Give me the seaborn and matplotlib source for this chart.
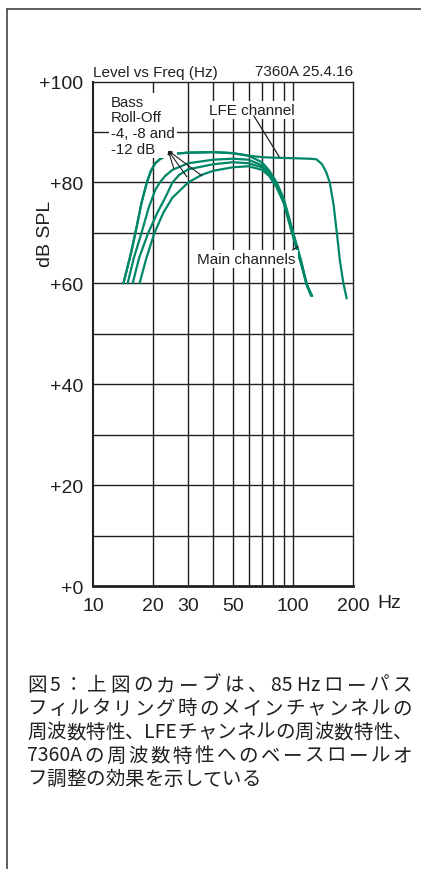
"""
Genelec 7360A: level vs frequency, bass roll-off and LFE channel
"""

# import section
import re
import pandas as pd
import seaborn as sns
import matplotlib.pyplot as plt
from matplotlib.font_manager import FontProperties
from matplotlib.lines import Line2D

# curve data (frequency in Hz, level in dB SPL)
MAIN_0_HZ = [14.2, 15.5, 16.5, 17.5, 18.6, 19.5, 20.5, 21.6, 23, 26, 30, 40, 50, 60, 70, 76, 83, 90, 100, 110, 117, 124]
MAIN_0_DB = [60, 66, 71, 76, 80, 82.3, 83.8, 84.6, 85.2, 85.7, 85.9, 86, 85.8, 85.3, 84.0, 82.4, 80, 76.8, 70.3, 64.5, 60, 57.5]
MAIN_4_HZ = [14.9, 16, 17.5, 19, 20.5, 21.6, 23, 25, 30, 40, 50, 60, 70, 76, 83, 90, 100, 110, 117, 123]
MAIN_4_DB = [60, 65, 70, 75, 78.5, 80, 81.3, 82.5, 83.8, 84.5, 84.7, 84.5, 83.4, 81.9, 79.6, 76.4, 70, 64.2, 59.8, 57.6]
MAIN_8_HZ = [15.8, 17, 18.9, 21, 23, 25, 27, 30, 40, 50, 60, 70, 76, 83, 90, 100, 110, 118, 124]
MAIN_8_DB = [60, 65, 70, 74, 77, 80, 81.5, 82.6, 83.6, 84, 83.8, 83, 81.6, 79.3, 76.1, 69.6, 64, 59.5, 57.6]
MAIN_12_HZ = [17.1, 18.5, 20.3, 22.5, 25, 30, 35, 40, 50, 60, 70, 76, 83, 90, 100, 110, 118, 125]
MAIN_12_DB = [60, 65, 70, 74, 77, 80, 81.5, 82.3, 83, 83.2, 82.5, 81.3, 79, 75.9, 69.4, 63.8, 59.5, 57.5]
LFE_HZ = [14.2, 15.5, 16.5, 17.5, 18.6, 19.5, 20.5, 21.6, 23, 26, 30, 40, 50, 60, 70, 80, 100, 120, 131, 140, 147, 153, 160, 166, 172, 179, 186]
LFE_DB = [60, 66, 71, 76, 80, 82.3, 83.8, 84.6, 85.2, 85.7, 85.9, 86, 85.8, 85.3, 85.0, 84.9, 84.8, 84.7, 84.6, 83.6, 82, 80, 75.5, 70, 64.5, 60, 57]

Y_TICKS = [0, 20, 40, 60, 80, 100]
Y_LABELS = ['+0', '+20', '+40', '+60', '+80', '+100']
X_TICKS = [10, 20, 30, 50, 100, 200]
X_LABELS = ['10', '20', '30', '50', '100', '200']
X_GRID = [20, 30, 40, 50, 60, 70, 80, 90, 100]
Y_GRID = [10, 20, 30, 40, 50, 60, 70, 80, 90]

CAPTION_ROWS = ['図5：上図のカーブは、85 Hzローパス',
                'フィルタリング時のメインチャンネルの',
                '周波数特性、LFEチャンネルの周波数特性、',
                '7360Aの周波数特性へのベースロールオ',
                'フ調整の効果を示している']

# long-form table for seaborn
frames = []
for name, hz, db in [('main 0', MAIN_0_HZ, MAIN_0_DB), ('main -4', MAIN_4_HZ, MAIN_4_DB),
                     ('main -8', MAIN_8_HZ, MAIN_8_DB), ('main -12', MAIN_12_HZ, MAIN_12_DB),
                     ('LFE', LFE_HZ, LFE_DB)]:
    frames.append(pd.DataFrame({'curve': name, 'freq': hz, 'db': db}))
CURVES = pd.concat(frames, ignore_index=True)

# set plot dimensions
X_PIXELS, Y_PIXELS, DPI = 421, 870, 100
X_INCH, Y_INCH = X_PIXELS / DPI, Y_PIXELS / DPI
INK = '#231f20'
GREEN = '#008768'

sns.set_style('white')
plt.rcParams['font.family'] = ['Liberation Sans', 'DejaVu Sans']

fig = plt.figure(figsize=(X_INCH, Y_INCH), dpi=DPI)
ax = fig.add_axes([93 / X_PIXELS, (Y_PIXELS - 587) / Y_PIXELS,
                   260 / X_PIXELS, 504.5 / Y_PIXELS])

# outer frame (left and top edges of a box cut off by the image)
fig.add_artist(Line2D([7 / X_PIXELS, 7 / X_PIXELS], [0, (Y_PIXELS - 10) / Y_PIXELS],
                      transform=fig.transFigure, color='#444444', lw=1.2))
fig.add_artist(Line2D([7 / X_PIXELS, 1], [(Y_PIXELS - 10) / Y_PIXELS] * 2,
                      transform=fig.transFigure, color='#444444', lw=1.2))

# grid
for f in X_GRID:
    ax.axvline(f, color=INK, lw=1.0, zorder=1)
for d in Y_GRID:
    ax.axhline(d, color=INK, lw=1.0, zorder=1)

sns.lineplot(data=CURVES, x='freq', y='db', units='curve', estimator=None,
             sort=False, color=GREEN, lw=1.6, ax=ax, zorder=3, legend=False)

ax.set_xscale('log')
ax.set_xlim(10, 200)
ax.set_ylim(0, 100)
ax.set_xticks(X_TICKS)
ax.set_xticklabels(X_LABELS)
ax.xaxis.set_minor_locator(plt.NullLocator())
ax.set_yticks(Y_TICKS)
ax.set_yticklabels(Y_LABELS)
ax.set_yticks(range(0, 101, 2), minor=True)
ax.tick_params(axis='x', length=0, pad=8, labelsize=14, labelcolor=INK)
ax.tick_params(axis='y', which='major', length=0, pad=7, labelsize=14, labelcolor=INK)
ax.tick_params(axis='y', which='minor', length=2.5, width=1, direction='inout', color=INK)
ax.set_xlabel('')
ax.set_ylabel('')
for side in ['top', 'right']:
    ax.spines[side].set_linewidth(1.0)
    ax.spines[side].set_color(INK)
ax.spines['left'].set_linewidth(1.5)
ax.spines['left'].set_color(INK)
ax.spines['bottom'].set_linewidth(2.0)
ax.spines['bottom'].set_color(INK)

fig.text(377 / X_PIXELS, (Y_PIXELS - 604) / Y_PIXELS, 'Hz', fontsize=14, color=INK,
         ha='left', va='center')
fig.text(45.5 / X_PIXELS, (Y_PIXELS - 234) / Y_PIXELS, 'dB SPL', fontsize=14, color=INK,
         rotation=90, ha='center', va='center')
fig.text(93 / X_PIXELS, (Y_PIXELS - 76.5) / Y_PIXELS, 'Level vs Freq (Hz)', fontsize=11,
         color=INK, ha='left', va='baseline')
fig.text(353 / X_PIXELS, (Y_PIXELS - 76.5) / Y_PIXELS, '7360A 25.4.16', fontsize=11,
         color=INK, ha='right', va='baseline')

# annotations
box = dict(facecolor='white', edgecolor='none', pad=1.5)
ax.text(12.3, 97.4, 'Bass\nRoll-Off\n-4, -8 and\n-12 dB', fontsize=10.8, color=INK,
        ha='left', va='top', linespacing=1.15, bbox=box, zorder=4)
for tip in [(25.4, 82.7), (29.5, 81.1), (35.1, 81.3)]:
    ax.annotate('', xy=(23.8, 86.3), xytext=tip,
                arrowprops=dict(arrowstyle='-|>', color=INK, lw=0.8,
                                mutation_scale=5, shrinkA=0, shrinkB=0), zorder=5)
ax.text(62.5, 94.3, 'LFE channel', fontsize=11, color=INK, ha='center', va='center',
        bbox=box, zorder=4)
ax.plot([63.8, 85.4], [93.2, 85.1], color=INK, lw=0.9, zorder=5)
ax.text(58.5, 64.8, 'Main channels', fontsize=11, color=INK, ha='center', va='center',
        bbox=box, zorder=4)
ax.plot([99.7, 106.3], [66.6, 67.3], color=INK, lw=0.9, zorder=5)

# caption, justified rows like the printed page (latin runs kept together)
rend = fig.canvas.get_renderer()
prop = FontProperties(family='Noto Sans CJK JP', size=14)
left, right = 27, 412
for i, row in enumerate(CAPTION_ROWS):
    tokens = re.findall(r'[A-Za-z0-9][A-Za-z0-9 ]*[A-Za-z0-9]|[A-Za-z0-9]|.', row)
    widths = [rend.get_text_width_height_descent(t, prop, ismath=False)[0] for t in tokens]
    total = sum(widths)
    gap = (right - left - total) / (len(tokens) - 1) if i < len(CAPTION_ROWS) - 1 else 0
    x = left
    base = 691 + i * 23.5
    for t, w in zip(tokens, widths):
        fig.text(x / X_PIXELS, (Y_PIXELS - base) / Y_PIXELS, t, fontproperties=prop,
                 color=INK, ha='left', va='baseline')
        x += w + gap

plt.savefig('out.png', dpi=DPI)
